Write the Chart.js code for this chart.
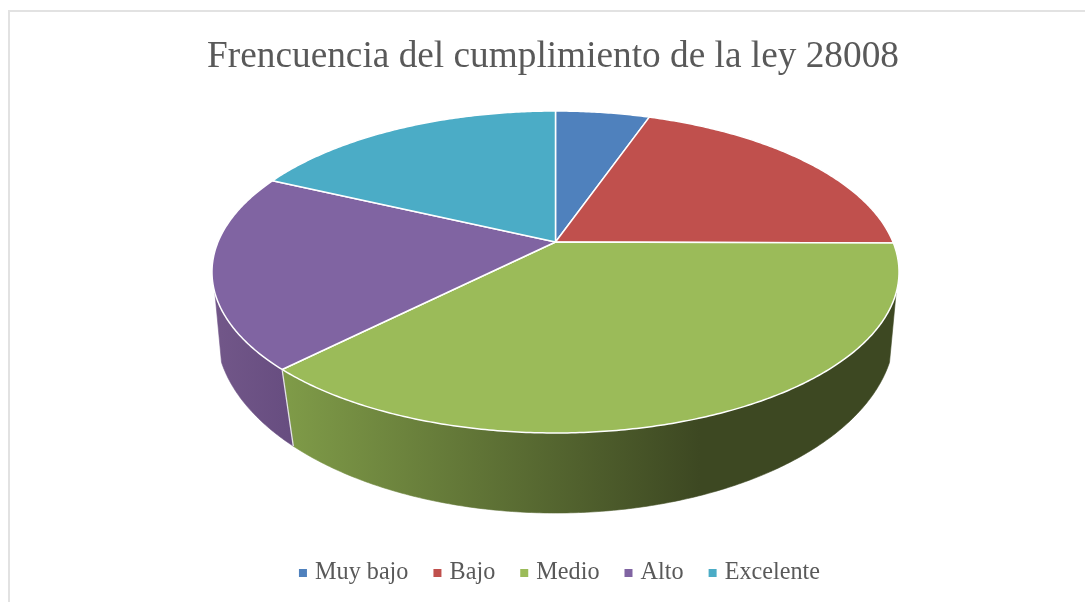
<!DOCTYPE html>
<html><head><meta charset="utf-8">
<style>
html,body{margin:0;padding:0;background:#fff;overflow:hidden}
#frame{position:absolute;left:8px;top:10px;width:1077px;height:592px;box-sizing:border-box;border-left:2px solid #e2e2e2;border-top:2px solid #e2e2e2}
canvas{position:absolute;left:0;top:0}
</style>
<script src="https://cdn.jsdelivr.net/npm/chart.js@4/dist/chart.umd.js"></script>
</head><body>
<div id="frame"></div>
<canvas id="c" width="1085" height="602"></canvas>
<script>
const chartTitle = 'Frencuencia del cumplimiento de la ley 28008';
const categories = ['Muy bajo','Bajo','Medio','Alto','Excelente'];
const values = [5.3,19.8,37.3,19.6,18.0];
const colors = ['#4f81bd','#c0504d','#9bbb59','#8064a2','#4bacc6'];
const wallStops = {2:['#7f9b48','#3d4822'],3:['#725789','#674d80']};

// projection of the tilted disc
const APEX = {x:555.5,y:242};
const TOP = {a:337.5,b:155.4,k:0.1863,dy:0};
const BOT = {a:336,b:179.4,k:0.14,dy:62.4};
const WALL_FROM = 108*Math.PI/180, WALL_TO = 252*Math.PI/180;
function project(t,p){
  const u=Math.sin(t),v=Math.cos(t),w=1+p.k*v;
  return {x:APEX.x+p.a*u/w,y:APEX.y+p.dy-p.b*v/w};
}
function rim(ctx,t0,t1,p,first){
  const n=Math.max(2,Math.ceil(Math.abs(t1-t0)/0.01));
  for(let i=0;i<=n;i++){
    const q=project(t0+(t1-t0)*i/n,p);
    (i===0&&first)?ctx.moveTo(q.x,q.y):ctx.lineTo(q.x,q.y);
  }
}
class Arc3D extends Chart.ArcElement{
  draw(ctx){
    const t0=this.startAngle+Math.PI/2,t1=this.endAngle+Math.PI/2;
    const idx=this.$context?this.$context.dataIndex:0;
    const a=Math.max(t0,WALL_FROM),b=Math.min(t1,WALL_TO);
    ctx.save();
    if(b>a){
      const st=wallStops[idx];
      const g=ctx.createLinearGradient(idx===2?285:213,0,idx===2?700:290,0);
      g.addColorStop(0,st[0]);g.addColorStop(1,st[1]);
      ctx.beginPath();
      rim(ctx,a,b,TOP,true);
      rim(ctx,b,a,BOT,false);
      ctx.closePath();
      ctx.fillStyle=g;ctx.fill();
      ctx.strokeStyle=g;ctx.lineWidth=0.6;ctx.stroke();
      if(t0>WALL_FROM&&t0<WALL_TO){
        const p1=project(t0,TOP),p2=project(t0,BOT);
        ctx.beginPath();ctx.moveTo(p1.x,p1.y);ctx.lineTo(p2.x,p2.y);
        ctx.strokeStyle='#e4e4e4';ctx.lineWidth=1.3;ctx.stroke();
      }
    }
    ctx.beginPath();
    ctx.moveTo(APEX.x,APEX.y);
    rim(ctx,t0,t1,TOP,false);
    ctx.closePath();
    ctx.fillStyle=this.options.backgroundColor;ctx.fill();
    ctx.strokeStyle='#ffffff';ctx.lineWidth=1.5;ctx.lineJoin='round';ctx.stroke();
    ctx.restore();
  }
}
Arc3D.id='arc3d';
Arc3D.defaults=Chart.ArcElement.defaults;
Arc3D.defaultRoutes=Chart.ArcElement.defaultRoutes;
class Pie3D extends Chart.PieController{}
Pie3D.id='pie3d';
Pie3D.defaults={...Chart.PieController.defaults,dataElementType:'arc3d'};
Pie3D.overrides=Chart.PieController.overrides;
Chart.register(Arc3D,Pie3D);

const shiftLegend={id:'shiftLegend',afterLayout(ch){ch.legend.left+=17;}};
new Chart(document.getElementById('c'),{
  type:'pie3d',
  data:{labels:categories,datasets:[{data:values,backgroundColor:colors,borderWidth:0}]},
  plugins:[shiftLegend],
  options:{
    responsive:false,animation:false,
    layout:{padding:{left:21,right:0,top:35,bottom:7}},
    plugins:{
      tooltip:{enabled:false},
      title:{display:true,text:chartTitle,color:'#595959',font:{family:'"Liberation Serif"',size:37.3,weight:'normal'},padding:{top:0,bottom:10}},
      legend:{display:true,position:'bottom',labels:{color:'#595959',font:{family:'"Liberation Serif"',size:24.2},usePointStyle:true,pointStyle:'rect',boxWidth:0.01,boxHeight:8,padding:29}}
    }
  }
});
</script>
</body></html>
